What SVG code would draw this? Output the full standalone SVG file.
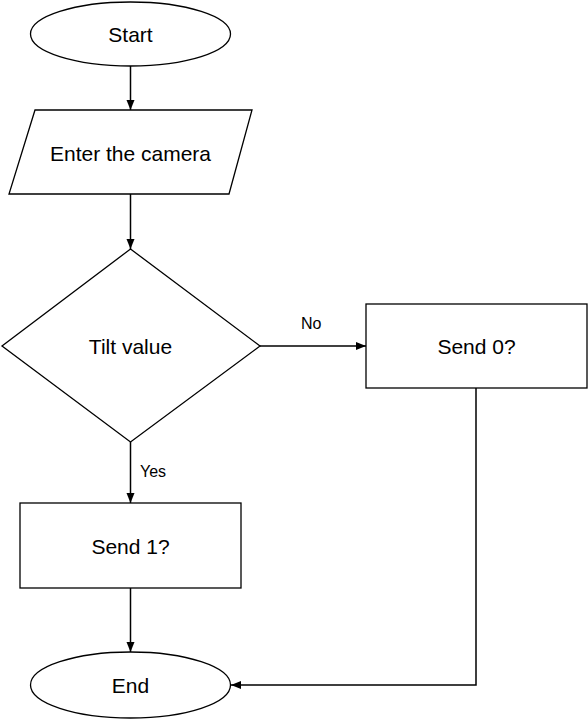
<svg xmlns="http://www.w3.org/2000/svg" width="588" height="719" viewBox="0 0 588 719">
<style>
.s{fill:#fff;stroke:#000;stroke-width:1.3}
.c{fill:none;stroke:#000;stroke-width:1.5}
.t{font-family:"Liberation Sans",Arial,sans-serif;font-size:21px;fill:#000;text-anchor:middle;dominant-baseline:central}
.l{font-family:"Liberation Sans",Arial,sans-serif;font-size:16px;fill:#000}
</style>
<defs>
<marker id="a" markerWidth="10" markerHeight="10" refX="10" refY="5" orient="auto" markerUnits="userSpaceOnUse">
<path d="M0,1 L10,5 L0,9 Z" fill="#000"/>
</marker>
</defs>
<rect width="588" height="719" fill="#fff"/>
<g id="connectors">
<line class="c" x1="130.5" y1="66" x2="130.5" y2="110" marker-end="url(#a)"/>
<line class="c" x1="130.5" y1="194" x2="130.5" y2="249" marker-end="url(#a)"/>
<line class="c" x1="260" y1="346" x2="366" y2="346" marker-end="url(#a)"/>
<line class="c" x1="130.5" y1="442" x2="130.5" y2="503" marker-end="url(#a)"/>
<line class="c" x1="130.5" y1="588" x2="130.5" y2="652" marker-end="url(#a)"/>
<polyline class="c" points="476,388 476,685 231,685" marker-end="url(#a)"/>
<text class="l" x="301" y="329">No</text>
<text class="l" x="140" y="477">Yes</text>
</g>
<g id="start">
<ellipse class="s" cx="130.5" cy="34" rx="100" ry="32"/>
<text class="t" x="130.5" y="34">Start</text>
</g>
<g id="input">
<polygon class="s" points="35,110 252,110 229,194 9,194"/>
<text class="t" x="130.5" y="153">Enter the camera</text>
</g>
<g id="decision">
<polygon class="s" points="130.5,249 260,346 130.5,442 2,346"/>
<text class="t" x="130.5" y="346">Tilt value</text>
</g>
<g id="send0">
<rect class="s" x="366" y="304" width="221" height="84"/>
<text class="t" x="476.5" y="346">Send 0?</text>
</g>
<g id="send1">
<rect class="s" x="20" y="503" width="221" height="85"/>
<text class="t" x="130.5" y="546">Send 1?</text>
</g>
<g id="end">
<ellipse class="s" cx="130.5" cy="685" rx="100" ry="33"/>
<text class="t" x="130.5" y="685">End</text>
</g>
</svg>
